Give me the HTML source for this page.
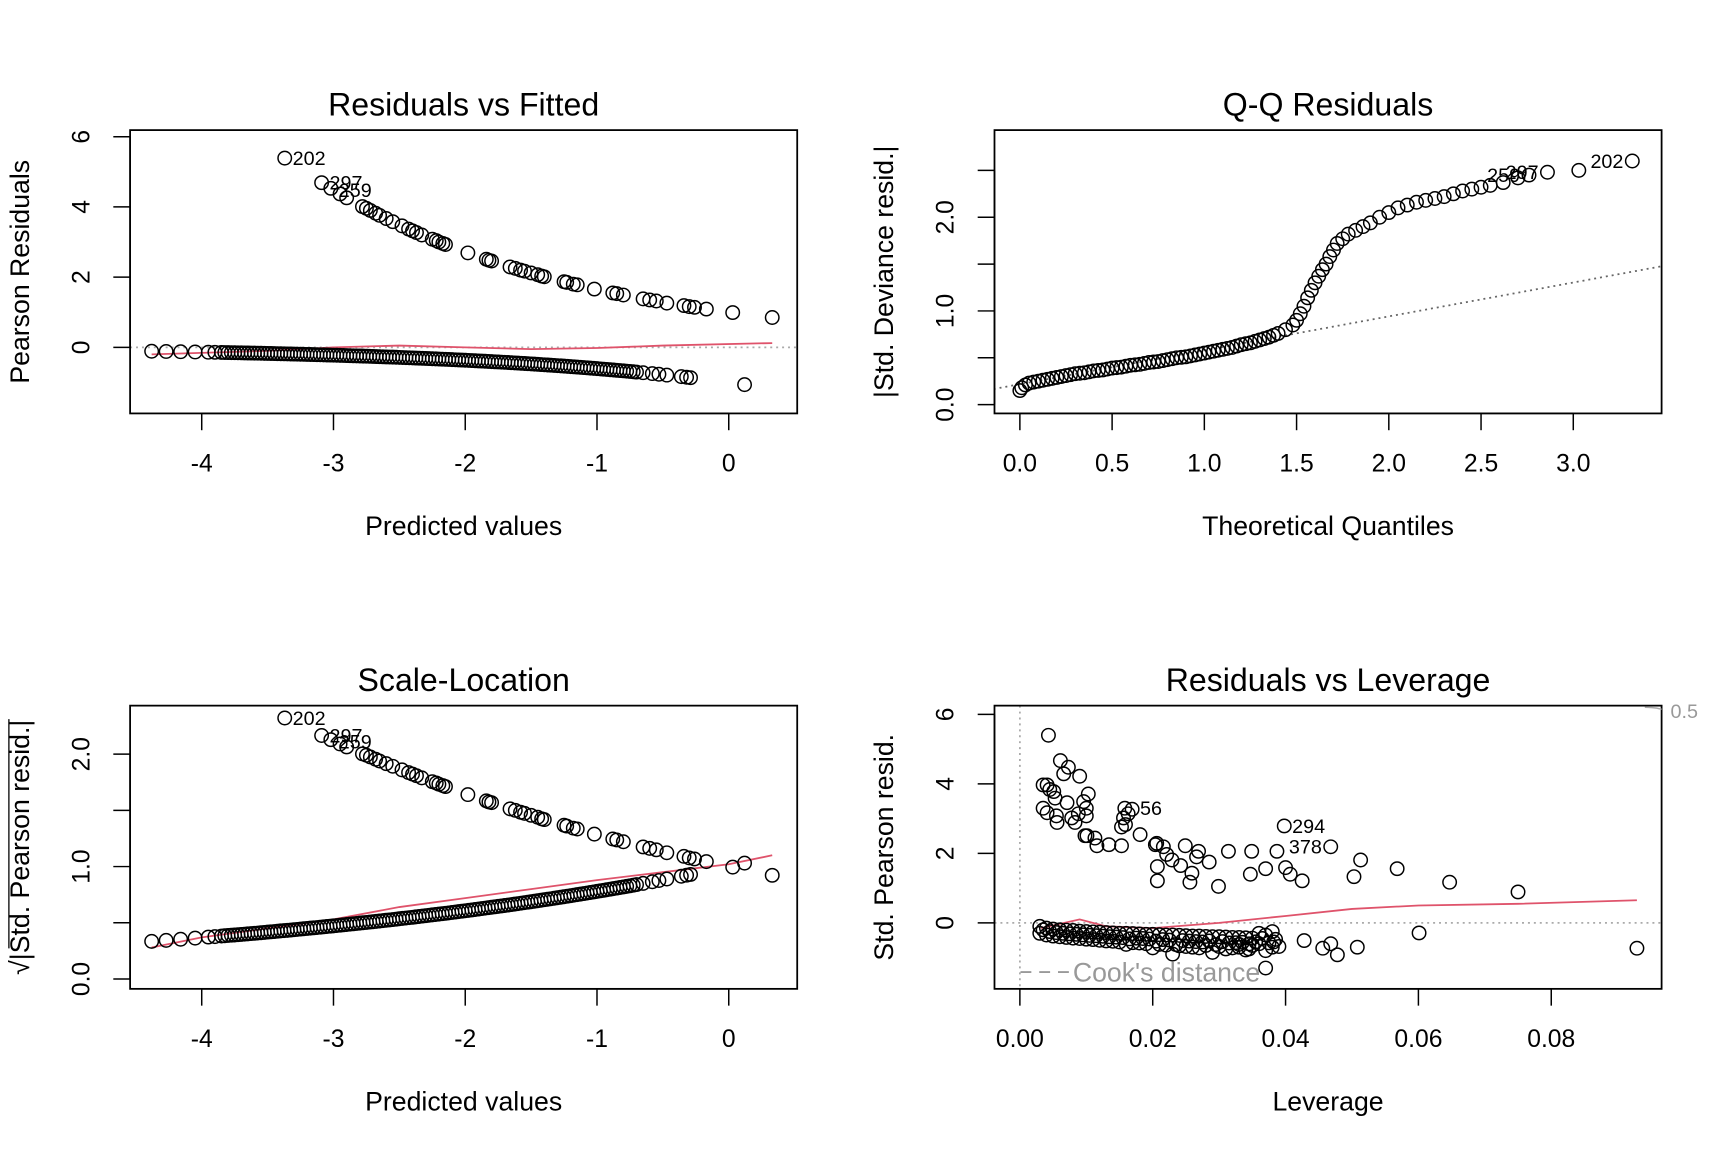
<!DOCTYPE html>
<html><head><meta charset="utf-8">
<style>
html,body{margin:0;padding:0;background:#fff;}
svg{display:block;font-family:"Liberation Sans",Arial,sans-serif;}
</style></head>
<body>
<svg id="chart" width="1728" height="1152" viewBox="0 0 1728 1152"><g id="root" transform="scale(0.98787)"></g></svg>
<script>
// ---- Panel 1: Residuals vs Fitted ----
const rfUpperX = [-3.37,-3.09,-3.02,-2.95,-2.90,-2.78,-2.75,-2.72,-2.68,-2.65,-2.60,-2.55,-2.48,-2.43,-2.40,-2.37,-2.33,-2.25,-2.22,-2.20,-2.17,-2.15,-1.98,-1.84,-1.82,-1.80,-1.66,-1.62,-1.58,-1.55,-1.50,-1.45,-1.42,-1.40,-1.25,-1.23,-1.18,-1.15,-1.02,-0.88,-0.85,-0.80,-0.65,-0.60,-0.55,-0.47,-0.34,-0.30,-0.26,-0.17,0.03,0.33];
const rfUpperY = [5.39,4.69,4.53,4.37,4.26,4.01,3.96,3.90,3.82,3.76,3.67,3.58,3.46,3.37,3.32,3.27,3.20,3.08,3.04,3.00,2.96,2.93,2.69,2.51,2.48,2.46,2.29,2.25,2.20,2.17,2.12,2.07,2.03,2.01,1.87,1.85,1.80,1.78,1.66,1.55,1.53,1.49,1.38,1.35,1.32,1.26,1.19,1.16,1.14,1.09,0.99,0.85];
const rfLowerX = [-4.38,-4.27,-4.16,-4.05,-3.95,-3.90,-3.85,-3.80,-3.75,-3.70,-3.65,-3.60,-3.55,-3.50,-3.45,-3.40,-3.35,-3.30,-3.25,-3.20,-3.15,-3.10,-3.05,-3.00,-2.95,-2.90,-2.85,-2.80,-2.75,-2.70,-2.65,-2.60,-2.55,-2.50,-2.45,-2.40,-2.35,-2.30,-2.25,-2.20,-2.15,-2.10,-2.05,-2.00,-1.95,-1.90,-1.85,-1.80,-1.75,-1.70,-1.65,-1.60,-1.55,-1.50,-1.45,-1.40,-1.35,-1.30,-1.25,-1.20,-1.15,-1.10,-1.05,-1.00,-0.95,-0.90,-0.85,-0.80,-0.75,-0.70,-0.65,-0.58,-0.53,-0.47,-0.36,-0.32,-0.29,0.12];
const rfLowerY = [-0.112,-0.118,-0.125,-0.132,-0.139,-0.142,-0.146,-0.150,-0.153,-0.157,-0.161,-0.165,-0.169,-0.174,-0.178,-0.183,-0.187,-0.192,-0.197,-0.202,-0.207,-0.212,-0.218,-0.223,-0.229,-0.235,-0.241,-0.247,-0.253,-0.259,-0.266,-0.273,-0.279,-0.287,-0.294,-0.301,-0.309,-0.317,-0.325,-0.333,-0.341,-0.350,-0.359,-0.368,-0.377,-0.387,-0.397,-0.407,-0.417,-0.427,-0.438,-0.449,-0.461,-0.472,-0.484,-0.497,-0.509,-0.522,-0.535,-0.549,-0.563,-0.577,-0.592,-0.607,-0.622,-0.638,-0.654,-0.670,-0.687,-0.705,-0.723,-0.748,-0.767,-0.791,-0.835,-0.852,-0.865,-1.062];
const rfLowerX2 = [-3.825,-3.775,-3.725,-3.675,-3.625,-3.575,-3.525,-3.475,-3.425,-3.375,-3.325,-3.275,-3.225,-3.175,-3.125,-3.075,-3.025,-2.975,-2.925,-2.875,-2.825,-2.775,-2.725,-2.675,-2.625,-2.575,-2.525,-2.475,-2.425,-2.375,-2.325,-2.275,-2.225,-2.175,-2.125,-2.075,-2.025,-1.975,-1.925,-1.875,-1.825,-1.775,-1.725,-1.675,-1.625,-1.575,-1.525,-1.475,-1.425,-1.375,-1.325,-1.275,-1.225,-1.175,-1.125,-1.075,-1.025,-0.975,-0.925,-0.875,-0.825,-0.775,-0.725];
const rfLowerY2 = [-0.148,-0.1515,-0.155,-0.159,-0.163,-0.167,-0.1715,-0.176,-0.1805,-0.185,-0.1895,-0.1945,-0.1995,-0.2045,-0.2095,-0.215,-0.2205,-0.226,-0.232,-0.238,-0.244,-0.250,-0.256,-0.2625,-0.2695,-0.276,-0.283,-0.2905,-0.2975,-0.305,-0.313,-0.321,-0.329,-0.337,-0.3455,-0.3545,-0.3635,-0.3725,-0.382,-0.392,-0.402,-0.412,-0.422,-0.4325,-0.4435,-0.455,-0.4665,-0.478,-0.4905,-0.503,-0.5155,-0.5285,-0.542,-0.556,-0.570,-0.5845,-0.5995,-0.6145,-0.630,-0.646,-0.662,-0.6785,-0.696];
const rfSmoothX = [-4.38,-3.5,-3.0,-2.5,-2.0,-1.5,-1.0,-0.5,0.33];
const rfSmoothY = [-0.2,-0.1,0.0,0.05,0.0,-0.05,-0.02,0.05,0.12];
const rfXTicks = [-4,-3,-2,-1,0];
const rfYTicks = [0,2,4,6];
// ---- Panel 2: Q-Q ----
const qqX = [0.00,0.01,0.03,0.05,0.10,0.15,0.20,0.25,0.30,0.35,0.40,0.45,0.50,0.55,0.60,0.65,0.70,0.75,0.80,0.85,0.90,0.95,1.00,1.05,1.10,1.15,1.20,1.25,1.30,1.35,1.40,1.44,1.48,1.50,1.52,1.54,1.56,1.58,1.60,1.62,1.64,1.66,1.68,1.70,1.72,1.75,1.78,1.82,1.86,1.90,1.95,2.00,2.05,2.10,2.15,2.20,2.25,2.30,2.35,2.40,2.45,2.50,2.55,2.62,2.70,2.76,2.86,3.03,3.32];
const qqY = [0.15,0.18,0.21,0.23,0.25,0.27,0.29,0.31,0.33,0.34,0.36,0.37,0.39,0.40,0.42,0.43,0.45,0.46,0.48,0.50,0.51,0.53,0.55,0.57,0.59,0.61,0.64,0.66,0.69,0.72,0.76,0.80,0.85,0.90,0.97,1.05,1.14,1.22,1.30,1.37,1.44,1.50,1.58,1.65,1.72,1.77,1.82,1.86,1.90,1.94,2.00,2.05,2.10,2.13,2.16,2.18,2.20,2.22,2.25,2.28,2.30,2.32,2.34,2.37,2.42,2.45,2.48,2.50,2.60];
const qqX2 = [0.075,0.125,0.175,0.225,0.275,0.325,0.375,0.425,0.475,0.525,0.575,0.625,0.675,0.725,0.775,0.825,0.875,0.925,0.975,1.025,1.075,1.125,1.175,1.225,1.275,1.325,1.375];
const qqY2 = [0.24,0.26,0.28,0.30,0.32,0.335,0.35,0.365,0.38,0.395,0.41,0.425,0.44,0.455,0.47,0.49,0.505,0.52,0.54,0.56,0.58,0.60,0.625,0.65,0.675,0.705,0.74];
const qqLineX = [-0.3,3.6];
const qqLineY = [0.11,1.52];
const qqXTicks = [0,0.5,1,1.5,2,2.5,3];
const qqYTicks = [0,0.5,1,1.5,2,2.5];
// ---- Panel 3: Scale-Location ----
const slSmoothX = [-4.38,-4,-3.5,-3,-2.5,-2,-1.5,-1,-0.5,0,0.33];
const slSmoothY = [0.28,0.37,0.45,0.53,0.64,0.72,0.80,0.88,0.95,1.02,1.10];
const slYTicks = [0,0.5,1,1.5,2];
// ---- Panel 4: Residuals vs Leverage ----
const lvUpperX = [.0043,.0061,.0073,.0066,.0090,.0035,.0041,.0045,.0051,.0053,.0103,.0096,.0071,.0100,.0035,.0041,.0055,.0088,.0100,.0078,.0083,.0056,.0158,.0163,.0169,.0156,.0159,.0153,.0181,.0098,.0101,.0113,.0116,.0134,.0153,.0206,.0204,.0216,.0221,.0229,.0242,.0249,.0269,.0266,.0259,.0285,.0314,.0256,.0207,.0207,.0299,.0347,.0370,.0349,.0387,.0398,.0400,.0407,.0425,.0468,.0503,.0513,.0568,.0647,.0750];
const lvUpperY = [5.40,4.67,4.48,4.29,4.22,3.97,3.97,3.84,3.78,3.59,3.71,3.49,3.46,3.30,3.30,3.17,3.08,3.14,3.08,3.02,2.89,2.89,3.30,3.14,3.27,3.02,2.83,2.76,2.54,2.51,2.51,2.44,2.22,2.25,2.22,2.29,2.25,2.19,1.97,1.81,1.65,2.22,2.06,1.90,1.43,1.75,2.06,1.17,1.62,1.21,1.05,1.40,1.56,2.06,2.06,2.79,1.59,1.40,1.21,2.19,1.33,1.81,1.56,1.17,0.89];
const lvIsoX = [.0601,.0929,.0508,.0468,.0456,.0478,.0428,.0370,.0345,.0330,.0382,.0390];
const lvIsoY = [-0.29,-0.73,-0.70,-0.60,-0.73,-0.92,-0.51,-1.30,-0.75,-0.62,-0.55,-0.68];
const lvBandX = [.003,.004,.005,.006,.007,.008,.009,.010,.011,.012,.013,.014,.015,.016,.017,.018,.019,.020,.021,.022,.023,.024,.025,.026,.027,.028,.029,.030,.031,.032,.033,.034,.035,.036,.037,.038];
const lvBandTopY = [-0.10,-0.15,-0.18,-0.20,-0.21,-0.22,-0.24,-0.25,-0.26,-0.27,-0.28,-0.29,-0.30,-0.30,-0.31,-0.32,-0.33,-0.33,-0.34,-0.35,-0.35,-0.36,-0.37,-0.38,-0.38,-0.39,-0.40,-0.40,-0.41,-0.42,-0.42,-0.43,-0.44,-0.30,-0.35,-0.25];
const lvBandBotY = [-0.30,-0.35,-0.38,-0.40,-0.42,-0.44,-0.45,-0.47,-0.48,-0.50,-0.52,-0.53,-0.55,-0.62,-0.57,-0.58,-0.60,-0.72,-0.62,-0.64,-0.90,-0.66,-0.68,-0.70,-0.72,-0.65,-0.85,-0.68,-0.75,-0.72,-0.70,-0.78,-0.65,-0.60,-0.80,-0.70];
const lvBandMidX = [.0035,.0045,.0055,.0065,.0075,.0085,.0095,.0105,.0115,.0125,.0135,.0145,.0155,.0165,.0175,.0185,.0195,.0205,.0215,.0225,.0235,.0245,.0255,.0265,.0275,.0285,.0295,.0305,.0315,.0325,.0335,.0345,.0355,.0365,.0375,.0385];
const lvBandMidY = [-0.20,-0.25,-0.28,-0.30,-0.315,-0.33,-0.345,-0.36,-0.37,-0.385,-0.40,-0.41,-0.425,-0.46,-0.44,-0.45,-0.465,-0.525,-0.48,-0.495,-0.625,-0.51,-0.525,-0.54,-0.55,-0.52,-0.625,-0.54,-0.58,-0.57,-0.56,-0.605,-0.545,-0.45,-0.575,-0.475];
const lvSmoothX = [.0032,.009,.013,.020,.030,.040,.050,.060,.075,.0929];
const lvSmoothY = [-0.15,0.10,-0.10,-0.15,0.0,0.2,0.4,0.5,0.55,0.65];
const lvXTicks = [0,0.02,0.04,0.06,0.08];
const lvYTicks = [0,2,4,6];

const NS = "http://www.w3.org/2000/svg";
const svg = document.getElementById('root');
function mk(tag, attrs, parent, text){
  const e = document.createElementNS(NS, tag);
  for (const k in attrs) e.setAttribute(k, attrs[k]);
  if (text !== undefined) e.textContent = text;
  (parent||svg).appendChild(e);
  return e;
}
function lin(d0,d1,r0,r1){ return v => r0 + (v-d0)*(r1-r0)/(d1-d0); }
function fmt(v,dec){ return v.toFixed(dec); }

function panel(o){
  const g = mk('g',{});
  
  
  const clipId = o.name+'-clip';
  const cp = mk('clipPath',{id:clipId},g);
  mk('rect',{x:o.L,y:o.T,width:o.R-o.L,height:o.B-o.T},cp);
  const t = mk('text',{x:(o.L+o.R)/2,y:o.T-15,'text-anchor':'middle','font-size':32.5},g,o.title);
  
  
  const xa = mk('g',{},g);
  
  
  const xt0 = o.sx(o.xTicks[0]), xt1 = o.sx(o.xTicks[o.xTicks.length-1]);
  mk('line',{x1:xt0,x2:xt1,y1:o.B,y2:o.B,stroke:'#000','stroke-width':1.5},xa);
  o.xTicks.forEach(v=>{
    const x = o.sx(v);
    mk('line',{x1:x,x2:x,y1:o.B,y2:o.B+17,stroke:'#000','stroke-width':1.5},xa);
    const lb = mk('text',{x:x,y:o.B+59,'text-anchor':'middle','font-size':25},xa,fmt(v,o.xDec));
    
    
  });
  const xl = mk('text',{x:(o.L+o.R)/2,y:o.B+123,'text-anchor':'middle','font-size':27},g,o.xTitle);
  
  
  const ya = mk('g',{},g);
  
  
  mk('line',{x1:o.L,x2:o.L,y1:o.sy(o.yTicks[0]),y2:o.sy(o.yTicks[o.yTicks.length-1]),stroke:'#000','stroke-width':1.5},ya);
  o.yTicks.forEach((v,i)=>{
    const y = o.sy(v);
    mk('line',{x1:o.L-17,x2:o.L,y1:y,y2:y,stroke:'#000','stroke-width':1.5},ya);
    if (o.yLabelEvery && i % o.yLabelEvery) return;
    const lb = mk('text',{x:o.L-50,y:y,'text-anchor':'middle','font-size':25,transform:`rotate(-90 ${o.L-50} ${y})`,dy:'0.35em'},ya,fmt(v,o.yDec));
    
    
  });
  const yx = o.L-112, yc=(o.T+o.B)/2;
  const yl = mk('text',{x:yx,y:yc,'text-anchor':'middle','font-size':27,transform:`rotate(-90 ${yx} ${yc})`,dy:'0.35em'},g,o.yTitle);
  
  
  const plot = mk('g',{'clip-path':`url(#${clipId})`},g);
  const fr = mk('rect',{x:o.L,y:o.T,width:o.R-o.L,height:o.B-o.T,fill:'none',stroke:'#000','stroke-width':1.8},g);
  
  
  return {g, plot};
}
function points(parent, sx, sy, xs, ys, name){
  xs.forEach((v,i)=>{
    const c = mk('circle',{cx:sx(v),cy:sy(ys[i]),r:6.8,fill:'none',stroke:'#000','stroke-width':1.5},parent);
    
    
  });
}
function pline(parent, sx, sy, xs, ys, attrs, name){
  const d = xs.map((v,i)=>(i?'L':'M')+sx(v).toFixed(1)+','+sy(ys[i]).toFixed(1)).join(' ');
  const p = mk('path',Object.assign({d:d,fill:'none'},attrs),parent);
  
  
  return p;
}
function label(parent,x,y,txt,anchor,name){
  const t = mk('text',{x:x,y:y,'font-size':20,'text-anchor':anchor||'start',dy:'0.35em'},parent,txt);
  
  
}
const RED = '#DF536B';

// Panel 1
{
  const sx = lin(-4,0,204.2,737.7), sy = lin(0,6,351.6,138.4);
  const p = panel({name:'residuals-vs-fitted',L:131.7,R:807,T:131.7,B:418.5,sx,sy,xTicks:rfXTicks,yTicks:rfYTicks,xDec:0,yDec:0,title:'Residuals vs Fitted',xTitle:'Predicted values',yTitle:'Pearson Residuals'});
  mk('line',{x1:131.7,x2:807,y1:sy(0),y2:sy(0),stroke:'#aaa','stroke-width':1.8,'stroke-dasharray':'2 4'},p.plot);
  points(p.g,sx,sy,rfUpperX,rfUpperY,'point-y1');
  points(p.g,sx,sy,rfLowerX,rfLowerY,'point-y0');
  points(p.g,sx,sy,rfLowerX2,rfLowerY2,'point-y0');
  pline(p.plot,sx,sy,rfSmoothX,rfSmoothY,{stroke:RED,'stroke-width':1.8},'smooth-line');
  label(p.g,sx(rfUpperX[0])+8,sy(rfUpperY[0]),'202','start','label-202');
  label(p.g,sx(rfUpperX[1])+8,sy(rfUpperY[1]),'297','start','label-297');
  label(p.g,sx(rfUpperX[2])+8,sy(rfUpperY[2])+2,'259','start','label-259');
}
// Panel 2
{
  const sx = lin(0,3,1032.4,1592.6), sy = lin(0,2,409.6,219.9);
  const p = panel({name:'qq-residuals',L:1006.7,R:1682,T:131.7,B:418.5,sx,sy,xTicks:qqXTicks,yTicks:qqYTicks,xDec:1,yDec:1,yLabelEvery:2,title:'Q-Q Residuals',xTitle:'Theoretical Quantiles',yTitle:'|Std. Deviance resid.|'});
  pline(p.plot,sx,sy,qqLineX,qqLineY,{stroke:'#666','stroke-width':1.8,'stroke-dasharray':'2 4'},'qq-reference-line');
  points(p.g,sx,sy,qqX,qqY,'qq-point');
  points(p.g,sx,sy,qqX2,qqY2,'qq-point');
  const n = qqX.length;
  label(p.g,sx(qqX[n-1])-9,sy(qqY[n-1]),'202','end','label-202');
  label(p.g,sx(qqX[n-3])-9,sy(qqY[n-3]),'297','end','label-297');
  label(p.g,sx(qqX[n-4])-9,sy(qqY[n-4]),'259','end','label-259');
}
// Panel 3
{
  const sx = lin(-4,0,204.2,737.7), sy = lin(0,2,991,763.4);
  const p = panel({name:'scale-location',L:131.7,R:807,T:714.3,B:1001,sx,sy,xTicks:rfXTicks,yTicks:slYTicks,xDec:0,yDec:1,yLabelEvery:2,title:'Scale-Location',xTitle:'Predicted values',yTitle:'√|Std. Pearson resid.|'});
  mk('line',{x1:9,x2:9,y1:728,y2:960,stroke:'#000','stroke-width':1.3},p.g);
  const upY = rfUpperY.map(v=>Math.sqrt(Math.abs(v)));
  const loY = rfLowerY.map(v=>Math.sqrt(Math.abs(v)));
  const loY2 = rfLowerY2.map(v=>Math.sqrt(Math.abs(v)));
  points(p.g,sx,sy,rfUpperX,upY,'point-y1');
  points(p.g,sx,sy,rfLowerX,loY,'point-y0');
  points(p.g,sx,sy,rfLowerX2,loY2,'point-y0');
  pline(p.plot,sx,sy,slSmoothX,slSmoothY,{stroke:RED,'stroke-width':1.8},'smooth-line');
  label(p.g,sx(rfUpperX[0])+8,sy(upY[0]),'202','start','label-202');
  label(p.g,sx(rfUpperX[1])+8,sy(upY[1]),'297','start','label-297');
  label(p.g,sx(rfUpperX[2])+8,sy(upY[2])+2,'259','start','label-259');
}
// Panel 4
{
  const sx = lin(0,0.08,1032.4,1570.3), sy = lin(0,6,934.2,723.2);
  const p = panel({name:'residuals-vs-leverage',L:1006.7,R:1682,T:714.3,B:1001,sx,sy,xTicks:lvXTicks,yTicks:lvYTicks,xDec:2,yDec:0,title:'Residuals vs Leverage',xTitle:'Leverage',yTitle:'Std. Pearson resid.'});
  mk('line',{x1:1006.7,x2:1682,y1:sy(0),y2:sy(0),stroke:'#aaa','stroke-width':1.8,'stroke-dasharray':'2 4'},p.plot);
  mk('line',{x1:sx(0),x2:sx(0),y1:714.3,y2:1001,stroke:'#aaa','stroke-width':1.8,'stroke-dasharray':'2 4'},p.plot);
  points(p.g,sx,sy,lvBandX,lvBandTopY,'point-band');
  points(p.g,sx,sy,lvBandX,lvBandBotY,'point-band');
  points(p.g,sx,sy,lvBandMidX,lvBandMidY,'point-band');
  points(p.g,sx,sy,lvIsoX,lvIsoY,'point-y0');
  points(p.g,sx,sy,lvUpperX,lvUpperY,'point-y1');
  pline(p.plot,sx,sy,lvSmoothX,lvSmoothY,{stroke:RED,'stroke-width':1.8},'smooth-line');
  label(p.g,sx(lvUpperX[24])+8,sy(lvUpperY[24])-1,'56','start','label-56');
  label(p.g,sx(lvUpperX[55])+8,sy(lvUpperY[55]),'294','start','label-294');
  label(p.g,sx(lvUpperX[59])-9,sy(lvUpperY[59]),'378','end','label-378');
  mk('path',{d:'M1665,716 Q1675,716 1682,718',fill:'none',stroke:'#aaa','stroke-width':1.5},p.g);
  const half = mk('text',{x:1691,y:720,'font-size':20,fill:'#999',dy:'0.35em'},p.g,'0.5');
  
  
  const lg = mk('g',{},p.g);
  
  
  mk('line',{x1:1033,x2:1082,y1:984,y2:984,stroke:'#999','stroke-width':1.8,'stroke-dasharray':'11 8'},lg);
  mk('text',{x:1086,y:984,'font-size':27,fill:'#999',dy:'0.35em'},lg,"Cook's distance");
}
</script>
</body></html>
